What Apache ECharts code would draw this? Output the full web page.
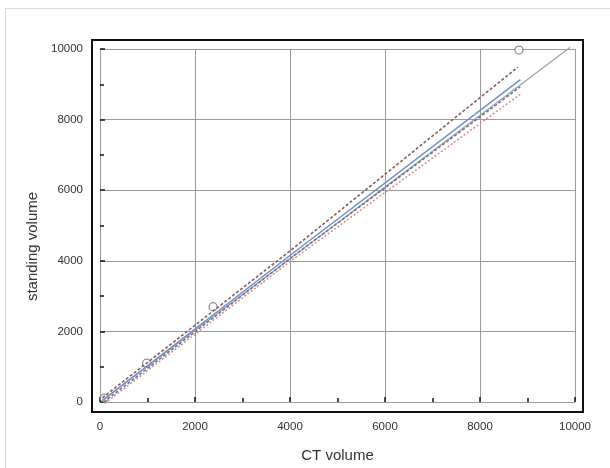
<!DOCTYPE html>
<html>
<head>
<meta charset="utf-8">
<script src="https://cdn.jsdelivr.net/npm/echarts@6/dist/echarts.min.js"></script>
<style>
	html, body { margin: 0; padding: 0; background: #fff; overflow: hidden; }
	.outer-frame {
		position: absolute;
		left: 5px;
		top: 8px;
		width: 640px;
		height: 500px;
		border: 1px solid #dcdcdc;
	}
	#chart { position: absolute; left: 0; top: 0; width: 610px; height: 468px; }
</style>
</head>
<body>
<div class="outer-frame"></div>
<div id="chart"></div>
<script>
// axis ticks
let xTicks = [0, 2000, 4000, 6000, 8000, 10000];
let yTicks = [0, 2000, 4000, 6000, 8000, 10000];

// measured points [CT volume, standing volume]
let points = [[90, 110], [980, 1100], [2380, 2700], [8820, 9970]];

// lines
let identityLine = [[50, 50], [9900, 10050]];
let regressionLine = [[50, 40], [4000, 4150], [8850, 9130]];
let upperBand = [[50, 120], [4000, 4280], [8800, 9490]];
let lowerBand = [[80, 0], [4000, 4060], [8850, 8930]];
let lowerBand2 = [[100, -40], [4000, 3980], [8850, 8720]];

let myChart = echarts.init(document.getElementById('chart'));

let labelStyle = {
	color: '#333',
	fontSize: 11.5,
	fontFamily: 'Liberation Sans, Arial, sans-serif',
	formatter: function(v) { return String(v); }
};

let option = {
	backgroundColor: 'transparent',
	animation: false,
	grid: [
		{	// frame
			left: 92, right: 27, top: 40, bottom: 56,
			show: true,
			borderColor: '#111',
			borderWidth: 2,
			backgroundColor: 'transparent'
		},
		{	// data area
			left: 100, right: 35, top: 49, bottom: 65
		}
	],
	xAxis: [
		{ gridIndex: 0, show: false, min: 0, max: 1 },
		{
			gridIndex: 1,
			type: 'value',
			min: xTicks[0],
			max: xTicks[xTicks.length - 1],
			interval: 2000,
			offset: 10,
			name: 'CT volume',
			nameLocation: 'middle',
			nameGap: 36,
			nameTextStyle: {
				color: '#333',
				fontSize: 15,
				fontFamily: 'Liberation Sans, Arial, sans-serif'
			},
			axisLine: { show: false },
			axisTick: { show: true, inside: true, length: 5, lineStyle: { color: '#111', width: 1.5 } },
			minorTick: { show: true, splitNumber: 2, length: 4, lineStyle: { color: '#111', width: 1.5 } },
			axisLabel: Object.assign({ margin: 9 }, labelStyle),
			splitLine: { show: true, lineStyle: { color: '#9a9a9a', width: 1 } }
		}
	],
	yAxis: [
		{ gridIndex: 0, show: false, min: 0, max: 1 },
		{
			gridIndex: 1,
			type: 'value',
			min: yTicks[0],
			max: yTicks[yTicks.length - 1],
			interval: 2000,
			offset: 8,
			name: 'standing volume',
			nameLocation: 'middle',
			nameGap: 50,
			nameTextStyle: {
				color: '#333',
				fontSize: 15,
				fontFamily: 'Liberation Sans, Arial, sans-serif',
				padding: [0, 42, 0, 0]
			},
			axisLine: { show: false },
			axisTick: { show: true, inside: true, length: 5, lineStyle: { color: '#111', width: 1.5 } },
			minorTick: { show: true, splitNumber: 2, length: 4, lineStyle: { color: '#111', width: 1.5 } },
			axisLabel: Object.assign({ margin: 9 }, labelStyle),
			splitLine: { show: true, lineStyle: { color: '#9a9a9a', width: 1 } }
		}
	],
	series: [
		{
			type: 'line', xAxisIndex: 1, yAxisIndex: 1, clip: false,
			data: identityLine, showSymbol: false,
			lineStyle: { color: '#a0a0a0', width: 1.2 }
		},
		{
			type: 'line', xAxisIndex: 1, yAxisIndex: 1, clip: false,
			data: lowerBand2, showSymbol: false,
			lineStyle: { color: '#d88a8a', width: 1.5, type: [2, 2] }
		},
		{
			type: 'line', xAxisIndex: 1, yAxisIndex: 1, clip: false,
			data: lowerBand, showSymbol: false,
			lineStyle: { color: '#6a6f8a', width: 1.5, type: [3, 2] }
		},
		{
			type: 'line', xAxisIndex: 1, yAxisIndex: 1, clip: false,
			data: regressionLine, showSymbol: false,
			lineStyle: { color: '#6f8fd0', width: 1.5 }
		},
		{
			type: 'line', xAxisIndex: 1, yAxisIndex: 1, clip: false,
			data: upperBand, showSymbol: false,
			lineStyle: { color: '#8a5c5c', width: 1.6, type: [3, 2] }
		},
		{
			type: 'scatter', xAxisIndex: 1, yAxisIndex: 1, clip: false,
			data: points,
			symbol: 'circle',
			symbolSize: 8,
			itemStyle: { color: '#fff', borderColor: '#777', borderWidth: 1.3 }
		}
	]
};
option && myChart.setOption(option);
</script>
</body>
</html>
